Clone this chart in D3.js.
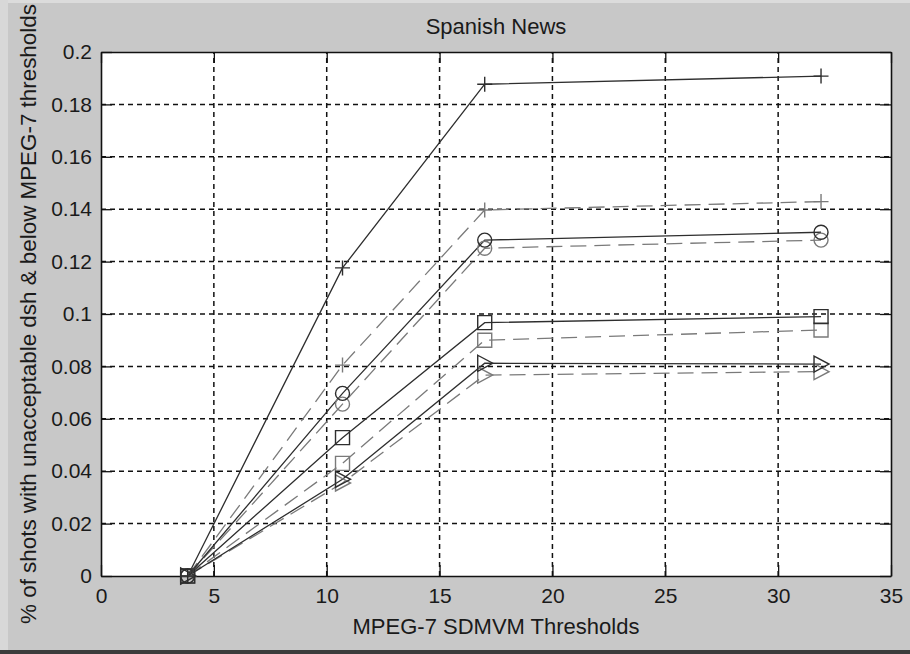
<!DOCTYPE html>
<html>
<head>
<meta charset="utf-8">
<script src="https://cdn.jsdelivr.net/npm/d3@7"></script>
<style>
  html, body { margin: 0; padding: 0; background: #c8c8c8; }
  svg { display: block; font-family: "Liberation Sans", Arial, sans-serif; }
</style>
</head>
<body>
<div id="chart"></div>
<script>
const thresholds = [3.84, 10.7, 17.0, 31.9];
const xTicks = [0, 5, 10, 15, 20, 25, 30, 35];
const yTicks = [0, 0.02, 0.04, 0.06, 0.08, 0.1, 0.12, 0.14, 0.16, 0.18, 0.2];

const plusSolid = [0, 0.1176, 0.1877, 0.1908];
const plusDashed = [0, 0.0805, 0.1397, 0.1429];
const circleSolid = [0, 0.0697, 0.1282, 0.1312];
const circleDashed = [0, 0.0656, 0.1251, 0.1282];
const squareSolid = [0, 0.0528, 0.0967, 0.0990];
const squareDashed = [0, 0.0430, 0.0900, 0.0939];
const triSolid = [0, 0.0369, 0.0812, 0.0809];
const triDashed = [0, 0.0355, 0.0767, 0.0780];

const seriesList = [
  { values: plusDashed, marker: "plus", dashed: true },
  { values: circleDashed, marker: "circle", dashed: true },
  { values: squareDashed, marker: "square", dashed: true },
  { values: triDashed, marker: "triangle", dashed: true },
  { values: plusSolid, marker: "plus", dashed: false },
  { values: circleSolid, marker: "circle", dashed: false },
  { values: squareSolid, marker: "square", dashed: false },
  { values: triSolid, marker: "triangle", dashed: false },
];

const width = 910;
const height = 654;
const margin = { top: 52, right: 19, bottom: 78, left: 101 };

const svg = d3.select("#chart").append("svg").attr("width", width).attr("height", height);

// window frame: light strips top/left, dark strip at bottom
svg.append("rect").attr("width", width).attr("height", height).attr("fill", "#c8c8c8");
svg.append("rect").attr("x", 0).attr("y", 0).attr("width", width).attr("height", 3).attr("fill", "#dcdcdc");
svg.append("rect").attr("x", 0).attr("y", 0).attr("width", 8).attr("height", 650).attr("fill", "#d8d8d8");
svg.append("rect").attr("x", 0).attr("y", 650).attr("width", width).attr("height", 4).attr("fill", "#3c3c3c");

const x = d3.scaleLinear().domain([0, 35]).range([margin.left, width - margin.right]);
const y = d3.scaleLinear().domain([0, 0.2]).range([height - margin.bottom, margin.top]);

svg
  .append("rect")
  .attr("x", x(0))
  .attr("y", y(0.2))
  .attr("width", x(35) - x(0))
  .attr("height", y(0) - y(0.2))
  .attr("fill", "#fff");

// dashed grid
const grid = svg.append("g").attr("stroke", "#111").attr("stroke-width", 1.5).attr("stroke-dasharray", "5,4");
grid
  .selectAll("line.gx")
  .data(xTicks.slice(1, -1))
  .join("line")
  .attr("x1", (d) => x(d))
  .attr("x2", (d) => x(d))
  .attr("y1", y(0))
  .attr("y2", y(0.2));
grid
  .selectAll("line.gy")
  .data(yTicks.slice(1, -1))
  .join("line")
  .attr("x1", x(0))
  .attr("x2", x(35))
  .attr("y1", (d) => y(d))
  .attr("y2", (d) => y(d));

const fmtY = (d) => String(+d.toFixed(2));
const tickLen = 11;

const styleAxis = (axis) => {
  axis.selectAll("path").attr("stroke", "#111").attr("stroke-width", 1.6);
  axis.selectAll("line").attr("stroke", "#111").attr("stroke-width", 1.3);
  axis.selectAll("text").attr("fill", "#1a1a1a").attr("font-size", 21);
};

svg
  .append("g")
  .attr("transform", `translate(0,${y(0)})`)
  .call(d3.axisBottom(x).tickValues(xTicks).tickSizeInner(-tickLen).tickSizeOuter(0).tickPadding(8))
  .call(styleAxis)
  .call((g) => g.selectAll("text").attr("dy", "0.9em"));

svg
  .append("g")
  .attr("transform", `translate(0,${y(0.2)})`)
  .call(d3.axisTop(x).tickValues(xTicks).tickSizeInner(-tickLen).tickSizeOuter(0).tickFormat(""))
  .call(styleAxis);

svg
  .append("g")
  .attr("transform", `translate(${x(0)},0)`)
  .call(d3.axisLeft(y).tickValues(yTicks).tickFormat(fmtY).tickSizeInner(-tickLen).tickSizeOuter(0).tickPadding(9))
  .call(styleAxis);

svg
  .append("g")
  .attr("transform", `translate(${x(35)},0)`)
  .call(d3.axisRight(y).tickValues(yTicks).tickFormat("").tickSizeInner(-tickLen).tickSizeOuter(0))
  .call(styleAxis);

// series lines
const line = d3
  .line()
  .x((d, i) => x(thresholds[i]))
  .y((d) => y(d));

const lines = svg.append("g").attr("fill", "none");
lines
  .selectAll("path")
  .data(seriesList)
  .join("path")
  .attr("stroke", (d) => (d.dashed ? "#7a7a7a" : "#2e2e2e"))
  .attr("stroke-width", 1.3)
  .attr("stroke-dasharray", (d) => (d.dashed ? "16,8" : null))
  .attr("d", (d) => line(d.values));

// markers
const markerPath = {
  plus: "M-7.5,0H7.5M0,-7.5V7.5",
  circle: d3.symbol(d3.symbolCircle, 154)(),
  square: "M-7,-7H7V7H-7Z",
  triangle: "M-7,-8L8,0L-7,8Z",
};

const markers = svg.append("g").attr("fill", "none");
seriesList.forEach((s) => {
  markers
    .append("g")
    .selectAll("path")
    .data(s.values)
    .join("path")
    .attr("transform", (d, i) => `translate(${x(thresholds[i])},${y(d)})`)
    .attr("d", markerPath[s.marker])
    .attr("stroke", s.dashed ? "#7a7a7a" : "#2e2e2e")
    .attr("stroke-width", 1.4);
});

// texts
svg
  .append("text")
  .attr("x", (x(0) + x(35)) / 2)
  .attr("y", 34)
  .attr("text-anchor", "middle")
  .attr("font-size", 22)
  .attr("fill", "#1a1a1a")
  .text("Spanish News");

svg
  .append("text")
  .attr("x", (x(0) + x(35)) / 2)
  .attr("y", 634)
  .attr("text-anchor", "middle")
  .attr("font-size", 22)
  .attr("fill", "#1a1a1a")
  .text("MPEG-7 SDMVM Thresholds");

svg
  .append("text")
  .attr("transform", `translate(36,${(y(0) + y(0.2)) / 2}) rotate(-90)`)
  .attr("text-anchor", "middle")
  .attr("font-size", 22.4)
  .attr("fill", "#1a1a1a")
  .text("% of shots with unacceptable dsh & below MPEG-7 thresholds");
</script>
</body>
</html>
